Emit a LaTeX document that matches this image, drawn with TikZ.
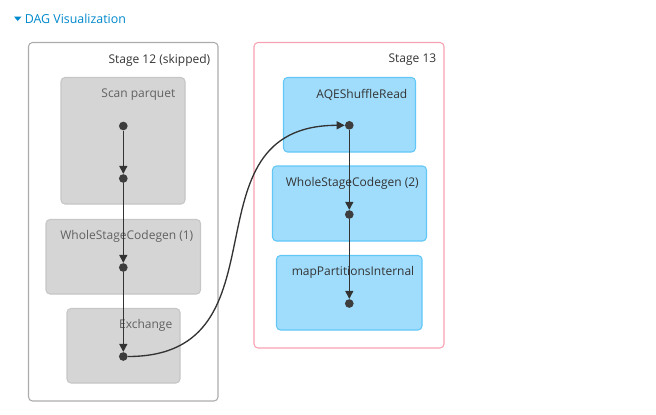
\documentclass[tikz,border=0pt]{standalone}
\usepackage{fontspec}
\setmainfont{Open Sans}
\usepackage{tikz}
\usetikzlibrary{arrows.meta,positioning,calc,fit}
\definecolor{hdrblue}{HTML}{0088CC}
\definecolor{skipline}{HTML}{ACACAC}
\definecolor{stageline}{HTML}{F7A1B1}
\definecolor{grayfill}{HTML}{D5D5D5}
\definecolor{grayline}{HTML}{C6C6C6}
\definecolor{bluefill}{HTML}{A0DDFD}
\definecolor{blueline}{HTML}{62C7F6}
\definecolor{edgecol}{HTML}{333333}
\tikzset{stagebox/.style={rectangle, rounded corners=3, draw=skipline, line width=.8pt, inner sep=0pt},
	opbox/.style={rectangle, rounded corners=3, draw=grayline, fill=grayfill, line width=.8pt, inner sep=0pt},
	livebox/.style={opbox, draw=blueline, fill=bluefill},
	boxlabel/.style={anchor=east, inner sep=0pt, text=black!80, font=\fontsize{9}{11}\selectfont},
	dot/.style={circle, fill=edgecol!95, inner sep=0pt, minimum size=6.5pt},
	edge/.style={draw=edgecol, line width=1pt, -{Triangle[length=6pt,width=6pt]}}}

\begin{document}
\begin{tikzpicture}[x=.75pt,y=-.75pt]
		\useasboundingbox (0,0) rectangle (656,414);
		\fill[hdrblue] (14,16.5) -- (21.5,16.5) -- (17.75,21) -- cycle;
		\node[anchor=west, inner sep=0pt, text=hdrblue, font=\fontsize{9.3}{11}\selectfont] (title) at (24.5,18.5) {DAG Visualization};
		% stage 12
		\node[stagebox, fit={(28.5,42.5) (218,401)}] (stage12) {};
		\node[stagebox, draw=stageline, fit={(254,42.5) (444,348)}] (stage13) {};
		\node[boxlabel, text=black!80] (stage12lbl) at ([shift={(-8,18)}]stage12.north east) {Stage 12 (skipped)};
		\node[boxlabel, text=black!80] (stage13lbl) at ([shift={(-8,18)}]stage13.north east) {Stage 13};
		\node[opbox, fit={(61,77.5) (185,204)}] (scan) {};
		\node[opbox, fit={(46,219.5) (200.5,294)}] (wsc1) {};
		\node[opbox, fit={(67,308.5) (180,383)}] (exch) {};
		\node[livebox, fit={(283.5,77.5) (415.5,152)}] (aqe) {};
		\node[livebox, fit={(272.5,166) (426.5,241)}] (wsc2) {};
		\node[livebox, fit={(276.5,255.5) (422,330)}] (mpi) {};
		\node[boxlabel, text=black!62] (scanlbl) at ([shift={(-10,17.5)}]scan.north east) {Scan parquet};
		\node[boxlabel, text=black!62] (wsc1lbl) at ([shift={(-7.5,17.5)}]wsc1.north east) {WholeStageCodegen (1)};
		\node[boxlabel, text=black!62] (exchlbl) at ([shift={(-8,17.5)}]exch.north east) {Exchange};
		\node[boxlabel] (aqelbl) at ([shift={(-8.5,17.5)}]aqe.north east) {AQEShuffleRead};
		\node[boxlabel] (wsc2lbl) at ([shift={(-8,17.5)}]wsc2.north east) {WholeStageCodegen (2)};
		\node[boxlabel] (mpilbl) at ([shift={(-8,17.5)}]mpi.north east) {mapPartitionsInternal};
		% dots
		\node[dot] (scan1) at (123.3,126) {};
		\node[dot] (scan2) at (123.3,178.5) {};
		\node[dot] (wsc1dot) at (123.3,267.5) {};
		\node[dot] (exchdot) at (123.3,356.5) {};
		\node[dot] (aqedot) at (349.3,125.3) {};
		\node[dot] (wsc2dot) at (349.3,214.5) {};
		\node[dot] (mpidot) at (349.3,303.5) {};
		\draw[edge] (scan1) -- (scan2);
		\draw[edge] (scan2) -- (wsc1dot);
		\draw[edge] (wsc1dot) -- (exchdot);
		\draw[edge] (aqedot) -- (wsc2dot);
		\draw[edge] (wsc2dot) -- (mpidot);
		\draw[edge] (exchdot) .. controls (293,356.5) and (179,125.3) .. (aqedot);
		\end{tikzpicture}
\end{document}
